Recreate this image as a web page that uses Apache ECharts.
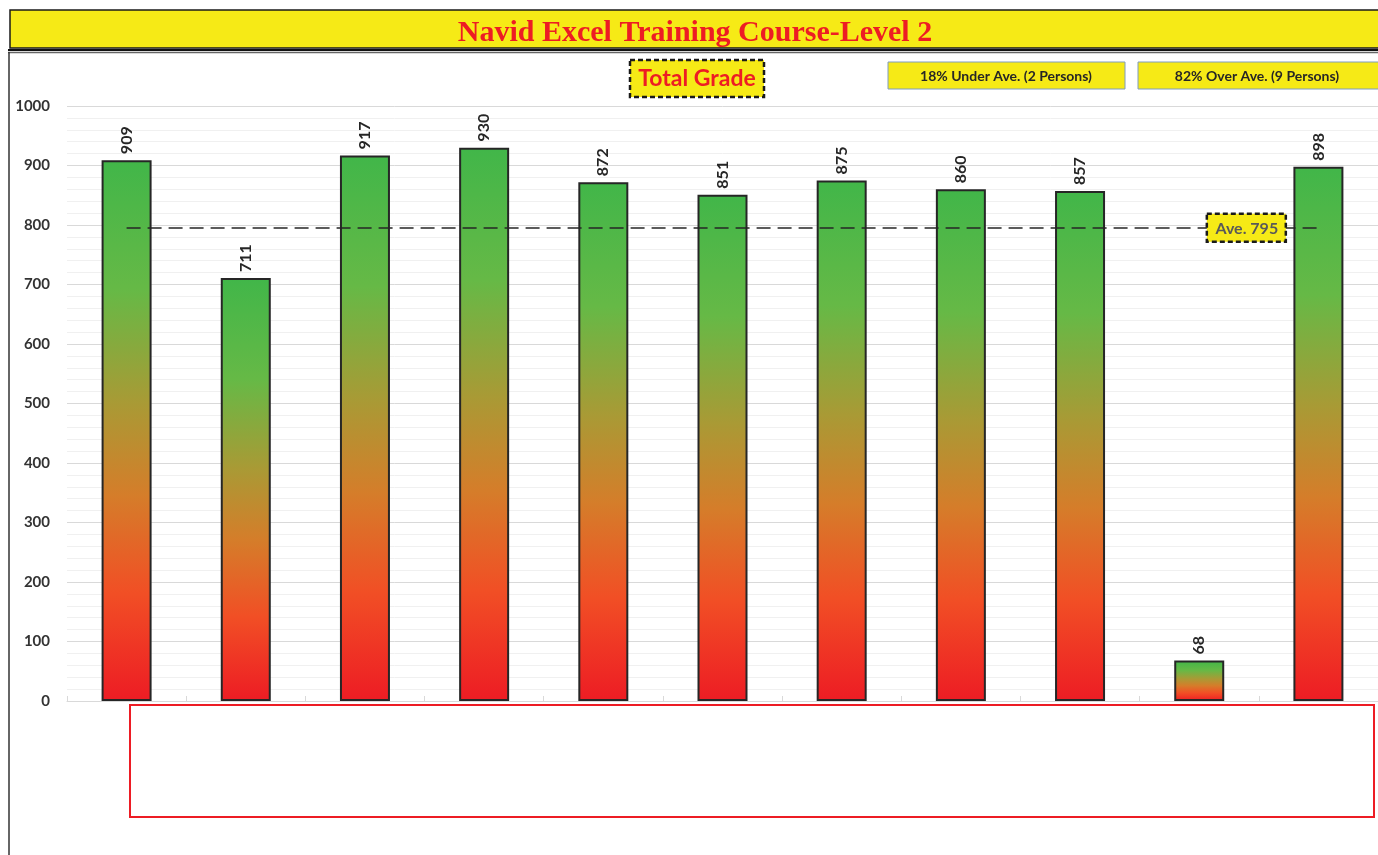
<!DOCTYPE html>
<html>
<head>
<meta charset="utf-8">
<script src="https://cdn.jsdelivr.net/npm/echarts@6/dist/echarts.min.js"></script>
<style>
  html, body { margin: 0; padding: 0; background: #fff; }
  #container { width: 1378px; height: 855px; }
</style>
</head>
<body>
<div id="container"></div>
<script>
var students = ['1', '2', '3', '4', '5', '6', '7', '8', '9', '10', '11'];
var grades = [909, 711, 917, 930, 872, 851, 875, 860, 857, 68, 898];
var yTicks = [0, 1000, 100];

var titleText = 'Navid Excel Training Course-Level 2';
var chartTitle = 'Total Grade';

var yellow = '#f6ea16';
var red = '#ed1c24';

// average and counts from the grades
var sum = 0;
for (var i = 0; i < grades.length; i++) sum += grades[i];
var ave = sum / grades.length;
var under = 0;
for (var i = 0; i < grades.length; i++) if (grades[i] < ave) under++;
var over = grades.length - under;
var underPct = Math.round(under / grades.length * 100);
var overPct = 100 - underPct;

var barColor = new echarts.graphic.LinearGradient(0, 0, 0, 1, [
  {offset: 0, color: '#41b649'},
  {offset: 0.24, color: '#66b946'},
  {offset: 0.45, color: '#a99a35'},
  {offset: 0.62, color: '#d57d2a'},
  {offset: 0.8, color: '#f14f25'},
  {offset: 1, color: '#ed1c24'}
]);

var dom = document.getElementById('container');
var myChart = echarts.init(dom);

var option = {
  animation: false,
  textStyle: { fontFamily: 'Lato' },
  grid: {
    left: 67,
    right: -3,
    top: 106,
    bottom: 154
  },
  xAxis: {
    type: 'category',
    data: students,
    axisLine: { lineStyle: { color: '#d9d9d9', width: 1 } },
    axisTick: { show: true, inside: true, length: 5, lineStyle: { color: '#d9d9d9' } },
    axisLabel: { show: false },
    splitLine: { show: false }
  },
  yAxis: {
    type: 'value',
    min: yTicks[0],
    max: yTicks[1],
    interval: yTicks[2],
    axisLine: { show: false },
    axisTick: { show: false },
    axisLabel: {
      margin: 17,
      color: '#333',
      fontWeight: 'bold',
      fontSize: 15,
      fontFamily: 'Lato',
      formatter: function (v) { return String(v); }
    },
    splitLine: { lineStyle: { color: '#d9d9d9', width: 1 } },
    minorTick: { show: false, splitNumber: 5 },
    minorSplitLine: { show: true, lineStyle: { color: '#f0f0f0', width: 1 } }
  },
  series: [{
    type: 'bar',
    data: grades,
    barWidth: 50,
    itemStyle: {
      color: barColor,
      borderColor: '#262626',
      borderWidth: 2
    },
    label: {
      show: true,
      position: 'top',
      rotate: 90,
      distance: 6,
      align: 'left',
      verticalAlign: 'middle',
      color: '#262626',
      fontWeight: 'bold',
      fontSize: 16,
      fontFamily: 'Lato'
    },
    markLine: {
      silent: true,
      symbol: ['none', 'none'],
      label: { show: false },
      lineStyle: { color: '#262626', width: 1.5, type: [14, 7] },
      data: [[
        {xAxis: students[0], yAxis: ave},
        {xAxis: students[students.length - 1], yAxis: ave}
      ]]
    }
  }]
};
myChart.setOption(option);

// place the average box on the line
var pAve = myChart.convertToPixel({gridIndex: 0}, [students[students.length - 2], ave]);
var pLast = myChart.convertToPixel({gridIndex: 0}, [students[students.length - 1], ave]);
var aveX = (pAve[0] + pLast[0]) / 2 - 12;

myChart.setOption({
  graphic: [
    // title bar
    {
      type: 'rect', z: 100,
      shape: {x: 10, y: 10, width: 1380, height: 38},
      style: {fill: yellow, stroke: '#1a1a1a', lineWidth: 1.5}
    },
    {
      type: 'text', z: 101,
      x: 695, y: 33,
      style: {
        text: titleText,
        fill: red,
        font: 'bold 30px "Liberation Serif"',
        align: 'center',
        verticalAlign: 'middle'
      }
    },
    {
      type: 'line', z: 100,
      shape: {x1: 8, y1: 50, x2: 1378, y2: 50},
      style: {stroke: '#111', lineWidth: 2}
    },
    {
      type: 'line', z: 100,
      shape: {x1: 8, y1: 52.5, x2: 1378, y2: 52.5},
      style: {stroke: '#666', lineWidth: 1.5}
    },
    {
      type: 'line', z: 100,
      shape: {x1: 9, y1: 52, x2: 9, y2: 855},
      style: {stroke: '#333', lineWidth: 1.5}
    },
    // chart title box
    {
      type: 'rect', z: 100,
      shape: {x: 630, y: 60, width: 134, height: 37},
      style: {fill: yellow, stroke: '#1a1a1a', lineWidth: 2.5, lineDash: [5, 3]}
    },
    {
      type: 'text', z: 101,
      x: 697, y: 79,
      style: {
        text: chartTitle,
        fill: red,
        font: 'bold 23px Lato',
        align: 'center',
        verticalAlign: 'middle'
      }
    },
    // under / over boxes
    {
      type: 'rect', z: 100,
      shape: {x: 888, y: 62, width: 237, height: 27},
      style: {fill: yellow, stroke: '#7f9cc0', lineWidth: 1}
    },
    {
      type: 'text', z: 101,
      x: 1006, y: 76,
      style: {
        text: underPct + '% Under Ave. (' + under + ' Persons)',
        fill: '#262626',
        font: 'bold 14px Lato',
        align: 'center',
        verticalAlign: 'middle'
      }
    },
    {
      type: 'rect', z: 100,
      shape: {x: 1138, y: 62, width: 242, height: 27},
      style: {fill: yellow, stroke: '#7f9cc0', lineWidth: 1}
    },
    {
      type: 'text', z: 101,
      x: 1257, y: 76,
      style: {
        text: overPct + '% Over Ave. (' + over + ' Persons)',
        fill: '#262626',
        font: 'bold 14px Lato',
        align: 'center',
        verticalAlign: 'middle'
      }
    },
    // average box
    {
      type: 'rect', z: 100,
      shape: {x: aveX - 40, y: pAve[1] - 14, width: 79, height: 28},
      style: {fill: yellow, stroke: '#1a1a1a', lineWidth: 2.5, lineDash: [5, 3]}
    },
    {
      type: 'text', z: 101,
      x: aveX, y: pAve[1] + 1,
      style: {
        text: 'Ave. ' + Math.round(ave),
        fill: '#595959',
        font: 'bold 16px Lato',
        align: 'center',
        verticalAlign: 'middle'
      }
    },
    // empty red box under the axis
    {
      type: 'rect', z: 100,
      shape: {x: 130, y: 705, width: 1244, height: 112},
      style: {fill: '#fff', stroke: red, lineWidth: 2}
    }
  ]
});
</script>
</body>
</html>
